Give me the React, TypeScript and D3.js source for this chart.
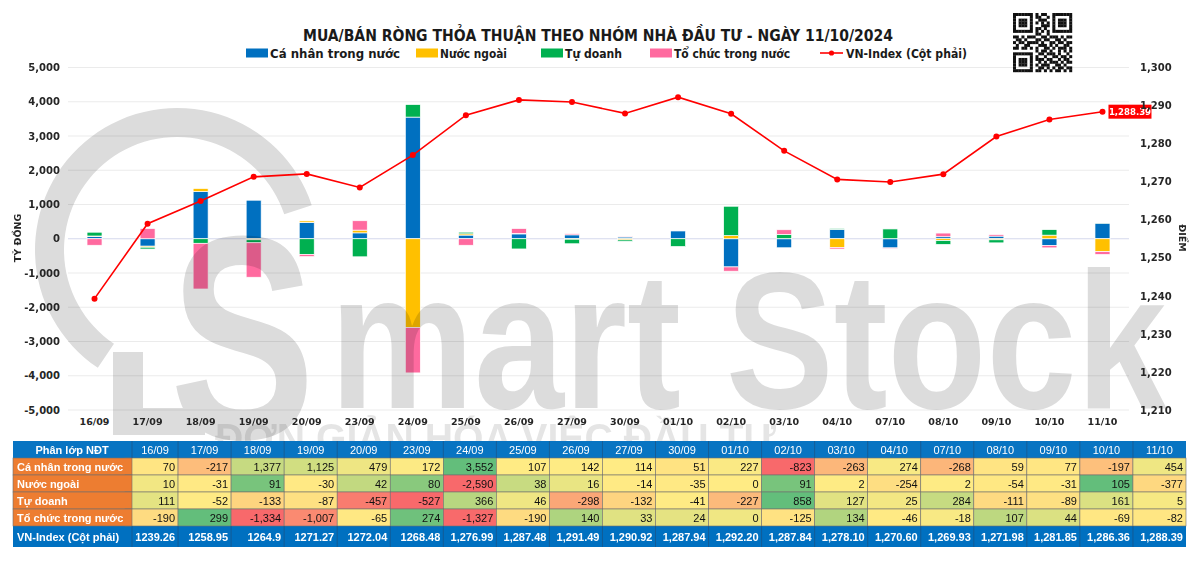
import React, { useEffect, useRef } from "react";
import * as d3 from "d3";

const dates = ["16/09", "17/09", "18/09", "19/09", "20/09", "23/09", "24/09", "25/09", "26/09", "27/09", "30/09", "01/10", "02/10", "03/10", "04/10", "07/10", "08/10", "09/10", "10/10", "11/10"];
const caNhan = [70, -217, 1377, 1125, 479, 172, 3552, 107, 142, 114, 51, 227, -823, -263, 274, -268, 59, 77, -197, 454];
const nuocNgoai = [10, -31, 91, -30, 42, 80, -2590, 38, 16, -14, -35, 0, 91, 2, -254, 2, -54, -31, 105, -377];
const tuDoanh = [111, -52, -133, -87, -457, -527, 366, 46, -298, -132, -41, -227, 858, 127, 25, 284, -111, -89, 161, 5];
const toChuc = [-190, 299, -1334, -1007, -65, 274, -1327, -190, 140, 33, 24, 0, -125, 134, -46, -18, 107, 44, -69, -82];
const vnIndex = [1239.26, 1258.95, 1264.9, 1271.27, 1272.04, 1268.48, 1276.99, 1287.48, 1291.49, 1290.92, 1287.94, 1292.2, 1287.84, 1278.1, 1270.6, 1269.93, 1271.98, 1281.85, 1286.36, 1288.39];
const vnLabels = ["1239.26", "1258.95", "1264.9", "1271.27", "1272.04", "1268.48", "1,276.99", "1,287.48", "1,291.49", "1,290.92", "1,287.94", "1,292.20", "1,287.84", "1,278.10", "1,270.60", "1,269.93", "1,271.98", "1,281.85", "1,286.36", "1,288.39"];

const seriesNames = ["Cá nhân trong nước", "Nước ngoài", "Tự doanh", "Tổ chức trong nước"];
const seriesKeys = ["cn", "nn", "td", "tc"];
const seriesColors = ["#0070C0", "#FFC000", "#00B050", "#FF6A9F"];
const lineName = "VN-Index (Cột phải)";

const leftTicks = [-5000, -4000, -3000, -2000, -1000, 0, 1000, 2000, 3000, 4000, 5000];
const rightTicks = [1210, 1220, 1230, 1240, 1250, 1260, 1270, 1280, 1290, 1300];

const qrRows = [
  "111111101011001111111",
  "100000101100101000001",
  "101110100111001011101",
  "101110101010101011101",
  "101110100011101011101",
  "100000101101001000001",
  "111111101010101111111",
  "000000001100100000000",
  "110101110011011101011",
  "011010001101100110100",
  "101101111010011011011",
  "010011000111010100110",
  "110110101001101011101",
  "000000001011010010101",
  "111111100110111010010",
  "100000101001001101101",
  "101110101110110010110",
  "101110100101011101011",
  "101110101011100110100",
  "100000100110101011011",
  "111111101101010110101",
];

const COND = "'DejaVu Sans Condensed', 'Liberation Sans Narrow', sans-serif";
const AXF = "'DejaVu Sans', sans-serif";
const TBL = "'Liberation Sans', Arial, sans-serif";

// Excel-style numbers: plain hyphen for negatives
const fmt = (v: number) => d3.format(",")(v).replace("\u2212", "-");

const App = () => {
  const svgRef = useRef<SVGSVGElement>(null);

  useEffect(() => {
    const svg = d3.select(svgRef.current);
    svg.selectAll("*").remove();
    svg.append("rect").attr("width", 1200).attr("height", 563).attr("fill", "#fff");

    const left = 68, right = 1129, top = 67.5, bottom = 410;
    const x = d3.scaleBand().domain(dates).range([left, right]);
    const cx = (d: string) => (x(d) as number) + x.bandwidth() / 2;
    const yL = d3.scaleLinear().domain([-5000, 5000]).range([bottom, top]);
    const yR = d3.scaleLinear().domain([1210, 1300]).range([bottom, top]);
    const barW = 15;

    // grid
    svg.append("g").selectAll("line").data(leftTicks).enter().append("line")
      .attr("x1", left).attr("x2", right)
      .attr("y1", (d) => yL(d)).attr("y2", (d) => yL(d))
      .attr("stroke", (d) => (d === 0 ? "#D5D8EC" : "#EBEBEB")).attr("stroke-width", 1);

    // stacked bars (diverging, Excel style)
    const rows = dates.map((d, i) => ({ date: d, cn: caNhan[i], nn: nuocNgoai[i], td: tuDoanh[i], tc: toChuc[i] }));
    const stacked = d3.stack<any>().keys(seriesKeys).offset(d3.stackOffsetDiverging)(rows);
    svg.append("g").selectAll("g").data(stacked).enter().append("g")
      .attr("fill", (_, i) => seriesColors[i])
      .selectAll("rect").data((s) => s).enter().append("rect")
      .attr("x", (d: any) => cx(d.data.date) - barW / 2)
      .attr("width", barW)
      .attr("y", (d) => yL(Math.max(d[0], d[1])))
      .attr("height", (d) => Math.abs(yL(d[0]) - yL(d[1])))
      .attr("stroke", "#fff").attr("stroke-width", 0.7);

    // watermark logo
    const wm = svg.append("g").attr("fill", "#000").attr("opacity", 0.14).style("pointer-events", "none");
    const ring = d3.arc<any>().innerRadius(113).outerRadius(142).startAngle(-2.55).endAngle(1.25);
    wm.append("path").attr("d", ring({}) as string).attr("transform", "translate(177,250)");
    wm.append("rect").attr("x", 113).attr("y", 352).attr("width", 30).attr("height", 83);
    wm.append("rect").attr("x", 113).attr("y", 408).attr("width", 92).attr("height", 27);
    wm.append("text").attr("transform", "translate(170,438) scale(0.75,1)").attr("font-family", TBL).attr("font-weight", "bold")
      .attr("font-size", 290).text("S");
    wm.append("text").attr("transform", "translate(330,408) scale(0.83,1)").attr("font-family", TBL).attr("font-weight", "bold")
      .attr("font-size", 195).text("mart Stock");

    // VN-Index line
    const line = d3.line<number>().x((_, i) => cx(dates[i])).y((d) => yR(d));
    svg.append("path").datum(vnIndex).attr("d", line).attr("fill", "none")
      .attr("stroke", "#FF0000").attr("stroke-width", 1.6);
    svg.append("g").selectAll("circle").data(vnIndex).enter().append("circle")
      .attr("cx", (_, i) => cx(dates[i])).attr("cy", (d) => yR(d)).attr("r", 3).attr("fill", "#FF0000");

    const lastI = vnIndex.length - 1;
    const lx = cx(dates[lastI]) + 6, ly = yR(vnIndex[lastI]);
    svg.append("rect").attr("x", lx).attr("y", ly - 7).attr("width", 43).attr("height", 14).attr("fill", "#FF0000");
    svg.append("text").attr("x", lx + 21.5).attr("y", ly + 3.5).attr("text-anchor", "middle")
      .attr("fill", "#fff").attr("font-family", COND).attr("font-weight", "bold").attr("font-size", 9.5)
      .text(d3.format(",.2f")(vnIndex[lastI]));

    // axes
    const styleAxis = (g: any, size: number) => {
      g.select(".domain").remove();
      g.selectAll("text").attr("font-family", AXF).attr("font-weight", "bold").attr("font-size", size).attr("fill", "#262626");
    };
    svg.append("g").attr("transform", `translate(${left},0)`)
      .call(d3.axisLeft(yL).tickValues(leftTicks).tickFormat(fmt as any).tickSize(0).tickPadding(8))
      .call((g: any) => styleAxis(g, 10));
    svg.append("g").attr("transform", `translate(${right},0)`)
      .call(d3.axisRight(yR).tickValues(rightTicks).tickFormat(fmt as any).tickSize(0).tickPadding(11))
      .call((g: any) => styleAxis(g, 10));
    svg.append("g").attr("transform", `translate(0,${bottom})`)
      .call(d3.axisBottom(x).tickSize(0).tickPadding(8))
      .call((g: any) => styleAxis(g, 9.5));

    svg.append("text").attr("transform", "translate(21,238) rotate(-90)").attr("text-anchor", "middle")
      .attr("font-family", AXF).attr("font-weight", "bold").attr("font-size", 9.5).attr("fill", "#262626").text("TỶ ĐỒNG");
    svg.append("text").attr("transform", "translate(1179,238) rotate(90)").attr("text-anchor", "middle")
      .attr("font-family", AXF).attr("font-weight", "bold").attr("font-size", 9.5).attr("fill", "#262626").text("ĐIỂM");

    // title + legend
    svg.append("text").attr("x", 598).attr("y", 41).attr("text-anchor", "middle")
      .attr("font-family", COND).attr("font-weight", "bold").attr("font-size", 16.5).attr("fill", "#1a1a1a")
      .attr("textLength", 590).attr("lengthAdjust", "spacingAndGlyphs")
      .text("MUA/BÁN RÒNG THỎA THUẬN THEO NHÓM NHÀ ĐẦU TƯ - NGÀY 11/10/2024");

    const legX = [246, 416, 541, 650];
    const legW = [130, 67, 57, 116];
    seriesNames.forEach((n, i) => {
      svg.append("rect").attr("x", legX[i]).attr("y", 48.5).attr("width", 22).attr("height", 9).attr("fill", seriesColors[i]);
      svg.append("text").attr("x", legX[i] + 24).attr("y", 57.5).attr("font-family", COND).attr("font-weight", "bold")
        .attr("font-size", 12.5).attr("fill", "#1a1a1a").attr("textLength", legW[i]).attr("lengthAdjust", "spacingAndGlyphs").text(n);
    });
    svg.append("line").attr("x1", 820).attr("x2", 843).attr("y1", 53).attr("y2", 53).attr("stroke", "#FF0000").attr("stroke-width", 1.6);
    svg.append("circle").attr("cx", 831.5).attr("cy", 53).attr("r", 2.6).attr("fill", "#FF0000");
    svg.append("text").attr("x", 846).attr("y", 57.5).attr("font-family", COND).attr("font-weight", "bold")
      .attr("font-size", 12.5).attr("fill", "#1a1a1a").attr("textLength", 121).attr("lengthAdjust", "spacingAndGlyphs").text(lineName);

    // QR-like mark
    const qr = svg.append("g").attr("transform", "translate(1013,13)");
    const m = 59 / 21;
    qrRows.forEach((r, ri) => {
      r.split("").forEach((c, ci) => {
        if (c === "1") qr.append("rect").attr("x", ci * m).attr("y", ri * m).attr("width", m + 0.2).attr("height", m + 0.2).attr("fill", "#111");
      });
    });

    // slogan watermark (between axis and table)
    svg.append("text").attr("transform", "translate(215,452) scale(0.98,1)").attr("font-family", TBL).attr("font-weight", "bold")
      .attr("font-size", 40).attr("fill", "#000").attr("opacity", 0.1).text("ĐƠN GIẢN HÓA VIỆC ĐẦU TƯ");

    // table
    const tx = d3.scaleBand().domain(dates).range([125, 1186]);
    const rowY = [441, 458, 475, 492, 509, 526, 547];
    const tbl = svg.append("g");
    tbl.append("rect").attr("x", 13).attr("y", rowY[0]).attr("width", 1173).attr("height", rowY[1] - rowY[0]).attr("fill", "#0070C0").attr("opacity", 0.97);
    tbl.append("rect").attr("x", 13).attr("y", rowY[5]).attr("width", 1173).attr("height", rowY[6] - rowY[5]).attr("fill", "#0070C0");
    const seriesVals = [caNhan, nuocNgoai, tuDoanh, toChuc];
    seriesVals.forEach((vals, r) => {
      const sorted = [...vals].sort((a, b) => a - b);
      const color = d3.scaleLinear<string>()
        .domain([sorted[0], d3.quantile(sorted, 0.5) as number, sorted[sorted.length - 1]])
        .range(["#F8696B", "#FFEB84", "#63BE7B"]);
      const y0 = rowY[r + 1], h = rowY[r + 2] - y0;
      tbl.append("g").selectAll("rect").data(vals).enter().append("rect")
        .attr("x", (_, i) => tx(dates[i]) as number).attr("y", y0)
        .attr("width", tx.bandwidth()).attr("height", h)
        .attr("fill", (d) => color(d)).attr("stroke", "#6f6f6f").attr("stroke-width", 0.6);
      tbl.append("g").selectAll("text").data(vals).enter().append("text")
        .attr("x", (_, i) => (tx(dates[i]) as number) + tx.bandwidth() - 3).attr("y", y0 + h - 4)
        .attr("text-anchor", "end").attr("font-family", TBL).attr("font-size", 11).attr("fill", "#111")
        .text((d) => fmt(d));
      tbl.append("rect").attr("x", 13).attr("y", y0).attr("width", 119).attr("height", h)
        .attr("fill", "#ED7D31").attr("stroke", "#6f6f6f").attr("stroke-width", 0.6);
      tbl.append("text").attr("x", 17).attr("y", y0 + h - 4).attr("font-family", TBL).attr("font-weight", "bold")
        .attr("font-size", 11).attr("fill", "#fff").text(seriesNames[r]);
    });
    tbl.append("g").selectAll("line").data(dates).enter().append("line")
      .attr("x1", (d) => Math.max(132, tx(d) as number)).attr("x2", (d) => Math.max(132, tx(d) as number))
      .attr("y1", rowY[0]).attr("y2", rowY[1]).attr("stroke", "#1F4E79").attr("stroke-width", 0.6);
    tbl.append("g").selectAll("line").data(dates).enter().append("line")
      .attr("x1", (d) => Math.max(132, tx(d) as number)).attr("x2", (d) => Math.max(132, tx(d) as number))
      .attr("y1", rowY[5]).attr("y2", rowY[6]).attr("stroke", "#1F4E79").attr("stroke-width", 0.6);
    tbl.append("text").attr("x", 72).attr("y", rowY[1] - 4.5).attr("text-anchor", "middle").attr("font-family", TBL)
      .attr("font-weight", "bold").attr("font-size", 11).attr("fill", "#fff").text("Phân lớp NĐT");
    tbl.append("g").selectAll("text").data(dates).enter().append("text")
      .attr("x", (d, i) => (i === 0 ? 155 : (tx(d) as number) + tx.bandwidth() / 2)).attr("y", rowY[1] - 4.5)
      .attr("text-anchor", "middle").attr("font-family", TBL).attr("font-size", 11).attr("fill", "#fff").text((d) => d);
    tbl.append("text").attr("x", 17).attr("y", rowY[6] - 6).attr("font-family", TBL)
      .attr("font-weight", "bold").attr("font-size", 11).attr("fill", "#fff").text(lineName);
    tbl.append("g").selectAll("text").data(vnLabels).enter().append("text")
      .attr("x", (_, i) => (tx(dates[i]) as number) + tx.bandwidth() - 3).attr("y", rowY[6] - 6)
      .attr("text-anchor", "end").attr("font-family", TBL).attr("font-weight", "bold").attr("font-size", 11)
      .attr("fill", "#fff").text((d) => d);
  }, []);

  return (
    <div style={{ position: "absolute", left: 0, top: 0 }}>
      <svg ref={svgRef} width={1200} height={563}></svg>
    </div>
  );
};

export default App;
